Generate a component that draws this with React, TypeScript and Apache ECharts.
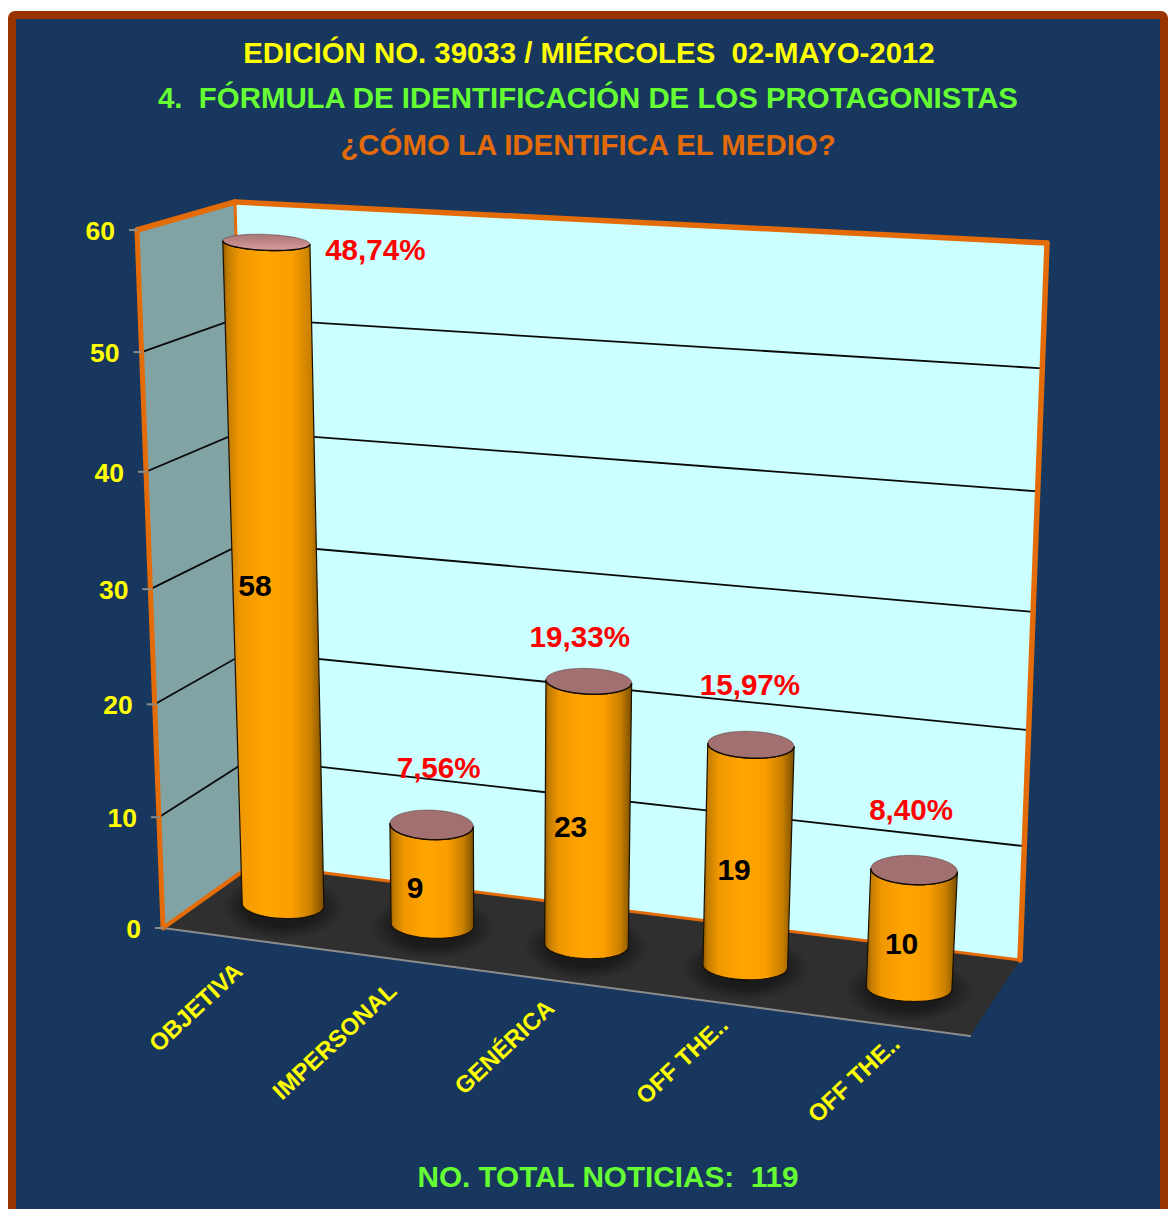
import React, { useEffect, useRef } from "react";
import * as echarts from "echarts";

// Chart data
const categories = ["OBJETIVA", "IMPERSONAL", "GENÉRICA", "OFF THE..", "OFF THE.."];
const counts = [58, 9, 23, 19, 10];
const shares = ["48,74%", "7,56%", "19,33%", "15,97%", "8,40%"];
const yTicks = [0, 10, 20, 30, 40, 50, 60];
const headline = "EDICIÓN NO. 39033 / MIÉRCOLES  02-MAYO-2012";
const subhead = "4.  FÓRMULA DE IDENTIFICACIÓN DE LOS PROTAGONISTAS";
const question = "¿CÓMO LA IDENTIFICA EL MEDIO?";
const footer = "NO. TOTAL NOTICIAS:  119";

type Pt = [number, number];
const FONT = '"Liberation Sans", Arial, sans-serif';
const ORANGE = "#E36C09";
const YELLOW = "#FFFF00";
const GREEN = "#66FF33";

// Foreshortening: 1 is linear, above 1 stretches the far end of the range
const warp = (x: number, k: number) => x / (x + (1 - x) * k);

// Maps unit coordinates onto a quadrilateral: (0,0), (1,0), (1,1), (0,1).
function quadMap(p0: Pt, p1: Pt, p2: Pt, p3: Pt, ku = 1, kv = 1.06) {
  return (u: number, v: number): Pt => {
    const s = warp(u, ku), t = warp(v, kv);
    const bx = p0[0] + (p1[0] - p0[0]) * s, by = p0[1] + (p1[1] - p0[1]) * s;
    const tx = p3[0] + (p2[0] - p3[0]) * s, ty = p3[1] + (p2[1] - p3[1]) * s;
    return [bx + (tx - bx) * t, by + (ty - by) * t];
  };
}

// Corners of the perspective box
const floorFrontLeft: Pt = [163, 928];
const floorFrontRight: Pt = [970, 1036];
const floorBackRight: Pt = [1020, 960];
const floorBackLeft: Pt = [253, 864];
const topFrontLeft: Pt = [137, 230];
const topBackLeft: Pt = [235, 202];
const topBackRight: Pt = [1047, 243];

const backWall = quadMap(floorBackLeft, floorBackRight, topBackRight, topBackLeft);
const sideWall = quadMap(floorFrontLeft, floorBackLeft, topBackLeft, topFrontLeft);
// Vertical plane through the middle of the floor, where the cylinders stand
const barCorners: [Pt, Pt, Pt, Pt] = [[210, 895.3], [993, 999], [1031, 249], [187, 215]];
const barPlane = quadMap(...barCorners, 1.08);
const barWidths = quadMap(...barCorners, 1.03);
const frontEdge = quadMap(floorFrontLeft, floorFrontRight, floorBackRight, floorBackLeft, 1.08);

// Hidden cartesian grid: its scales turn data values into unit coordinates
const GRID = { left: 100, top: 100, width: 1000, height: 600 };
function unit(api: any, cat: number, val: number): Pt {
  const c = api.coord([cat, val]);
  return [(c[0] - GRID.left) / GRID.width, 1 - (c[1] - GRID.top) / GRID.height];
}

// Sampled ellipse around c; the major axis is tilted a little with the floor
function ellipsePts(c: Pt, rx: number, ry: number, tilt: number, from = 0, to = Math.PI * 2, n = 48): Pt[] {
  const out: Pt[] = [];
  const cs = Math.cos(tilt), sn = Math.sin(tilt);
  for (let i = 0; i <= n; i++) {
    const a = from + ((to - from) * i) / n;
    const ex = rx * Math.cos(a), ey = ry * Math.sin(a);
    out.push([c[0] + ex * cs - ey * sn, c[1] + ex * sn + ey * cs]);
  }
  return out;
}

const percentOffset: Pt[] = [[109, 7], [7, -57], [-9, -45], [-1, -60], [-3, -61]];
const countOffset: Pt[] = [[-20, 2], [-17, 12], [-17, 12], [-14, 13], [-10, 14]];
const categoryOffset: Pt[] = [[0, 29], [0, 28], [-1, 24], [9, 19], [12, 15]];
const capShade: [string, string][] = [
  ["#A87575", "#DB9C9C"],
  ["#A27070", "#A27070"],
  ["#A27070", "#A27070"],
  ["#A27070", "#A27070"],
  ["#A27070", "#A27070"],
];

const bodyGradient = () =>
  new echarts.graphic.LinearGradient(0, 0, 1, 0, [
    { offset: 0, color: "#8F5A00" },
    { offset: 0.05, color: "#C27C00" },
    { offset: 0.17, color: "#F09700" },
    { offset: 0.42, color: "#FFA500" },
    { offset: 0.68, color: "#FB9E00" },
    { offset: 0.87, color: "#C98000" },
    { offset: 1, color: "#7A4E00" },
  ]);

const edgeLine = (a: Pt, b: Pt, lineWidth: number, stroke = ORANGE) => ({
  type: "line",
  shape: { x1: a[0], y1: a[1], x2: b[0], y2: b[1] },
  style: { stroke, lineWidth, lineCap: "round" },
  silent: true,
});

function renderWalls(_p: any, _api: any) {
  const poly = (points: Pt[], fill: string) => ({ type: "polygon", shape: { points }, style: { fill }, silent: true });
  return {
    type: "group",
    children: [
      poly([topFrontLeft, topBackLeft, floorBackLeft, floorFrontLeft], "#82A3A3"),
      poly([topBackLeft, topBackRight, floorBackRight, floorBackLeft], "#CCFFFF"),
      poly([floorFrontLeft, floorBackLeft, floorBackRight, floorFrontRight], "#2F2F2F"),
      edgeLine(floorFrontLeft, floorFrontRight, 2, "#8C8C8C"),
    ],
  };
}

function renderGridline(_p: any, api: any) {
  const value = api.value(1);
  const t = unit(api, 0, value)[1];
  if (value <= 0 || value >= 60) return { type: "group", children: [] };
  return {
    type: "polyline",
    shape: { points: [sideWall(0, t), backWall(0, t), backWall(1, t)] },
    style: { stroke: "#0A0A0A", lineWidth: 1.8, fill: "none" },
    silent: true,
  };
}

function renderEdges(_p: any, _api: any) {
  return {
    type: "group",
    children: [
      edgeLine(topFrontLeft, topBackLeft, 5.5),
      edgeLine(topBackLeft, topBackRight, 5.5),
      edgeLine(topBackRight, floorBackRight, 5.5),
      edgeLine(floorBackLeft, floorBackRight, 3),
      edgeLine(topBackLeft, floorBackLeft, 3),
      edgeLine(floorFrontLeft, floorBackLeft, 4),
      edgeLine(topFrontLeft, floorFrontLeft, 5),
    ],
  };
}

function renderTick(_p: any, api: any) {
  const value = api.value(1);
  const front = sideWall(0, unit(api, 0, value)[1]);
  return {
    type: "group",
    children: [
      {
        type: "line",
        shape: { x1: front[0] - 8, y1: front[1], x2: front[0] + 1, y2: front[1] },
        style: { stroke: "#8C8C8C", lineWidth: 2 },
        silent: true,
      },
      {
        type: "text",
        x: front[0] - 22,
        y: front[1] + 1,
        style: { text: String(value), fill: YELLOW, font: `bold 26.5px ${FONT}`, align: "right", verticalAlign: "middle" },
        silent: true,
      },
    ],
  };
}

function renderCylinder(_p: any, api: any) {
  const cat = api.value(0), value = api.value(1);
  const [u, t] = unit(api, cat, value);
  const halfBand = (0.265 * api.size([1, 0])[0]) / GRID.width;

  const base = barPlane(u, 0);
  const top = barPlane(u, t);
  const width = (tt: number) => {
    const a = barWidths(u - halfBand, tt), b = barWidths(u + halfBand, tt);
    return Math.hypot(b[0] - a[0], b[1] - a[1]) / 2;
  };
  const rxBase = width(0), rxTop = width(t);
  const ryBase = 13.5, ryTop = 16 - (value * 8) / 58;
  const tilt = 0.04;

  const front = ellipsePts(base, rxBase, ryBase, tilt, 0, Math.PI);
  const frontTop = ellipsePts(top, rxTop, ryTop, tilt, 0, Math.PI);
  const body: Pt[] = [...front, ...frontTop.slice().reverse()];

  return {
    type: "group",
    children: [
      {
        type: "polygon",
        shape: { points: ellipsePts([base[0], base[1] + 2], rxBase * 1.5, ryBase * 2.4, tilt) },
        style: {
          fill: new echarts.graphic.RadialGradient(0.5, 0.5, 0.5, [
            { offset: 0, color: "rgba(0,0,0,0.5)" },
            { offset: 0.62, color: "rgba(0,0,0,0.42)" },
            { offset: 1, color: "rgba(0,0,0,0)" },
          ]),
        },
        silent: true,
      },
      { type: "polygon", shape: { points: body }, style: { fill: bodyGradient(), stroke: "#1A1000", lineWidth: 1.2 }, silent: true },
      {
        type: "polygon",
        shape: { points: ellipsePts(top, rxTop, ryTop, tilt) },
        style: {
          fill: new echarts.graphic.LinearGradient(0, 0, 0, 1, [
            { offset: 0, color: capShade[cat][0] },
            { offset: 1, color: capShade[cat][1] },
          ]),
          stroke: "rgba(70,40,40,0.55)",
          lineWidth: 0.8,
        },
        silent: true,
      },
      { type: "polyline", shape: { points: frontTop }, style: { stroke: "#140C00", lineWidth: 1.4, fill: "none" }, silent: true },
    ],
  };
}

function renderLabels(_p: any, api: any) {
  const cat = api.value(0), value = api.value(1);
  const [u, t] = unit(api, cat, value);
  const top = barPlane(u, t);
  const mid = barPlane(u, unit(api, cat, value / 2)[1]);
  const edge = frontEdge(u, 0);
  return {
    type: "group",
    children: [
      {
        type: "text",
        x: top[0] + percentOffset[cat][0],
        y: top[1] + percentOffset[cat][1],
        style: { text: shares[cat], fill: "#FF0000", font: `bold 29.6px ${FONT}`, align: "center", verticalAlign: "middle" },
        silent: true,
      },
      {
        type: "text",
        x: mid[0] + countOffset[cat][0],
        y: mid[1] + countOffset[cat][1],
        style: { text: String(value), fill: "#000000", font: `bold 30px ${FONT}`, align: "center", verticalAlign: "middle" },
        silent: true,
      },
      {
        type: "text",
        x: edge[0] + categoryOffset[cat][0],
        y: edge[1] + categoryOffset[cat][1],
        rotation: (43 * Math.PI) / 180,
        style: { text: categories[cat], fill: YELLOW, font: `bold 23.8px ${FONT}`, align: "right", verticalAlign: "middle" },
        silent: true,
      },
    ],
  };
}

const pairs = counts.map((v, i) => [i, v]);
const tickPairs = yTicks.map((v) => [0, v]);
const heading = (text: string, top: number, left: number, color: string, fontSize = 29.4) => ({
  text,
  left,
  top,
  textAlign: "center",
  textVerticalAlign: "middle",
  padding: 0,
  textStyle: { color, fontFamily: FONT, fontWeight: "bold", fontSize },
});
const layer = (renderItem: any, data: number[][], z: number) => ({
  type: "custom",
  coordinateSystem: "cartesian2d",
  renderItem,
  data,
  z,
  silent: true,
});

export default function App() {
  const ref = useRef<HTMLDivElement>(null);
  useEffect(() => {
    const chart = echarts.init(ref.current!, undefined, { renderer: "svg" });
    chart.setOption({
      animation: false,
      backgroundColor: "#FFFFFF",
      title: [
        heading(headline, 52, 589, YELLOW),
        heading(subhead, 97, 588, GREEN),
        heading(question, 144, 588, ORANGE),
        heading(footer, 1176, 608, GREEN, 29.7),
      ],
      graphic: [
        {
          type: "rect",
          z: 0,
          silent: true,
          shape: { x: 12, y: 15, width: 1152, height: 1240, r: 3 },
          style: { fill: "#18375E", stroke: "#993300", lineWidth: 8 },
        },
      ],
      grid: { ...GRID, containLabel: false },
      xAxis: { type: "category", data: categories, show: false },
      yAxis: { type: "value", min: 0, max: 60, interval: 10, show: false },
      series: [
        layer(renderWalls, [[0, 0]], 2),
        layer(renderGridline, tickPairs, 3),
        layer(renderEdges, [[0, 0]], 4),
        layer(renderTick, tickPairs, 5),
        layer(renderCylinder, pairs, 6),
        layer(renderLabels, pairs, 7),
      ],
    });
    return () => chart.dispose();
  }, []);
  return <div ref={ref} style={{ position: "absolute", left: 0, top: 0, width: 1170, height: 1209 }} />;
}
